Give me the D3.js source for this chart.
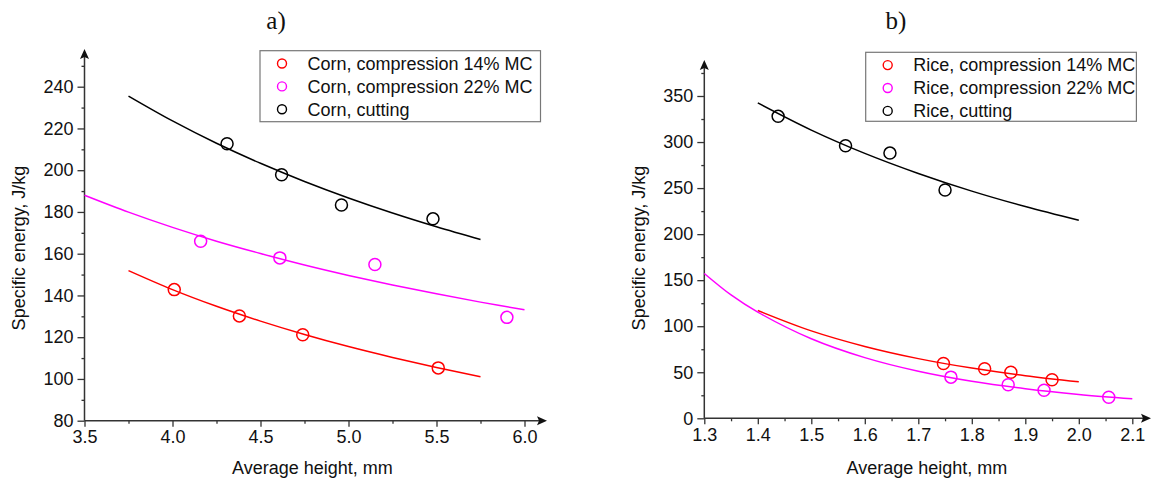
<!DOCTYPE html>
<html><head><meta charset="utf-8">
<script src="https://cdn.jsdelivr.net/npm/d3@7"></script>
<style>
html,body{margin:0;padding:0;background:#fff;}
svg text{font-family:"Liberation Sans",Arial,sans-serif;fill:#111;}
</style></head>
<body><svg id="c" width="1152" height="481"></svg>
<script>
// ---------- Panel a) Corn ----------
const cornLegend = ["Corn, compression 14% MC","Corn, compression 22% MC","Corn, cutting"];
const corn14X = [4.01, 4.38, 4.74, 5.51];
const corn14Y = [142.8, 130.2, 121.2, 105.3];
const corn22X = [4.16, 4.61, 5.15, 5.90];
const corn22Y = [166.0, 158.0, 154.8, 129.5];
const cornCutX = [4.31, 4.62, 4.96, 5.48];
const cornCutY = [212.7, 197.8, 183.3, 176.7];
const corn14FitX = [3.75, 4.0, 4.25, 4.5, 4.75, 5.0, 5.25, 5.5, 5.75];
const corn14FitY = [151.9, 142.8, 134.8, 127.7, 121.3, 115.5, 110.3, 105.5, 101.1];
const corn22FitX = [3.5, 3.75, 4.0, 4.25, 4.5, 4.75, 5.0, 5.25, 5.5, 5.75, 6.0];
const corn22FitY = [188.0, 179.9, 172.6, 166.0, 160.1, 154.6, 149.6, 145.0, 140.8, 136.8, 133.1];
const cornCutFitX = [3.75, 4.0, 4.25, 4.5, 4.75, 5.0, 5.25, 5.5, 5.75];
const cornCutFitY = [235.5, 223.6, 212.9, 203.3, 194.6, 186.7, 179.5, 172.9, 166.8];
const cornXTicks = [3.5, 4.0, 4.5, 5.0, 5.5, 6.0];
const cornXMinor = [3.75, 4.25, 4.75, 5.25, 5.75];
const cornYTicks = [80, 100, 120, 140, 160, 180, 200, 220, 240];
const cornYMinor = [90, 110, 130, 150, 170, 190, 210, 230, 250];

// ---------- Panel b) Rice ----------
const riceLegend = ["Rice, compression 14% MC","Rice, compression 22% MC","Rice, cutting"];
const rice14X = [1.747, 1.824, 1.873, 1.950];
const rice14Y = [59.6, 53.8, 50.1, 41.8];
const rice22X = [1.761, 1.868, 1.935, 2.056];
const rice22Y = [44.7, 36.4, 30.5, 22.9];
const riceCutX = [1.438, 1.564, 1.647, 1.750];
const riceCutY = [327.9, 296.0, 288.0, 248.0];
const rice14FitX = [1.4, 1.5, 1.6, 1.7, 1.8, 1.9, 2.0];
const rice14FitY = [117.0, 94.9, 78.0, 64.8, 54.5, 46.2, 39.6];
const rice22FitX = [1.3, 1.35, 1.4, 1.5, 1.6, 1.7, 1.8, 1.9, 2.0, 2.1];
const rice22FitY = [157.3, 134.0, 115.3, 86.4, 65.9, 51.1, 40.2, 32.1, 25.9, 21.1];
const riceCutFitX = [1.4, 1.5, 1.6, 1.7, 1.8, 1.9, 2.0];
const riceCutFitY = [342.5, 313.0, 287.7, 265.9, 246.7, 229.9, 215.0];
const riceXTicks = [1.3, 1.4, 1.5, 1.6, 1.7, 1.8, 1.9, 2.0, 2.1];
const riceXMinor = [1.35, 1.45, 1.55, 1.65, 1.75, 1.85, 1.95, 2.05];
const riceYTicks = [0, 50, 100, 150, 200, 250, 300, 350];
const riceYMinor = [25, 75, 125, 175, 225, 275, 325, 375];

const seriesColors = ["#ff0000", "#ff00ff", "#000000"];

const svg = d3.select("#c");
const zip = (xs, ys) => xs.map((x, i) => [x, ys[i]]);

function panel(cfg) {
  const g = svg.append("g");
  const x = d3.scaleLinear().domain(cfg.xDomain).range(cfg.xRange);
  const y = d3.scaleLinear().domain(cfg.yDomain).range(cfg.yRange);
  const x0 = cfg.xRange[0], y0 = cfg.yRange[0];
  const axisColor = "#333";

  // x axis
  const xa = g.append("g").attr("transform", `translate(0,${y0})`)
    .call(d3.axisBottom(x).tickValues(cfg.xTicks).tickSize(6).tickPadding(4).tickFormat(d3.format(".1f")));
  const xm = g.append("g").attr("transform", `translate(0,${y0})`)
    .call(d3.axisBottom(x).tickValues(cfg.xMinor).tickSize(3).tickFormat(""));
  // y axis
  const ya = g.append("g").attr("transform", `translate(${x0},0)`)
    .call(d3.axisLeft(y).tickValues(cfg.yTicks).tickSize(7).tickPadding(4).tickFormat(d3.format("d")));
  const ym = g.append("g").attr("transform", `translate(${x0},0)`)
    .call(d3.axisLeft(y).tickValues(cfg.yMinor).tickSize(3).tickFormat(""));
  [xa, xm, ya, ym].forEach(a => {
    a.select(".domain").remove();
    a.selectAll(".tick line").attr("stroke", axisColor).attr("stroke-width", 1.3);
    a.selectAll(".tick text").style("font-size", "18px").style("font-family", '"Liberation Sans",Arial,sans-serif').attr("fill", "#111");
  });
  // axis lines with arrows
  g.append("line").attr("x1", x0).attr("x2", cfg.xArrow - 8).attr("y1", y0).attr("y2", y0)
    .attr("stroke", axisColor).attr("stroke-width", 1.5);
  g.append("line").attr("x1", x0).attr("x2", x0).attr("y1", y0).attr("y2", cfg.yArrow + 8)
    .attr("stroke", axisColor).attr("stroke-width", 1.5);
  g.append("path").attr("d", `M${cfg.xArrow},${y0} L${cfg.xArrow - 10},${y0 - 4.5} L${cfg.xArrow - 8},${y0} L${cfg.xArrow - 10},${y0 + 4.5} Z`).attr("fill", "#111");
  g.append("path").attr("d", `M${x0},${cfg.yArrow} L${x0 - 4.5},${cfg.yArrow + 10} L${x0},${cfg.yArrow + 8} L${x0 + 4.5},${cfg.yArrow + 10} Z`).attr("fill", "#111");

  // fits
  const line = d3.line().x(d => x(d[0])).y(d => y(d[1])).curve(d3.curveCatmullRom.alpha(0.5));
  cfg.fits.forEach((f, i) => {
    g.append("path").attr("d", line(zip(f[0], f[1]))).attr("fill", "none")
      .attr("stroke", seriesColors[i]).attr("stroke-width", 1.5);
  });
  // points
  cfg.points.forEach((p, i) => {
    g.selectAll(null).data(zip(p[0], p[1])).enter().append("circle")
      .attr("cx", d => x(d[0])).attr("cy", d => y(d[1])).attr("r", 6)
      .attr("fill", "none").attr("stroke", seriesColors[i]).attr("stroke-width", 1.5);
  });

  // axis titles
  g.append("text").attr("x", cfg.xLabelX).attr("y", 474).attr("text-anchor", "middle")
    .style("font-size", "18px").text("Average height, mm");
  g.append("text").attr("transform", `translate(${cfg.yLabelX},248) rotate(-90)`).attr("text-anchor", "middle")
    .style("font-size", "18px").text("Specific energy, J/kg");
  // panel title
  g.append("text").attr("x", cfg.titleX).attr("y", 28.5).attr("text-anchor", "middle")
    .style("font-family", '"Liberation Serif","Times New Roman",serif').style("font-size", "25px").text(cfg.title);

  // legend
  const L = cfg.legend;
  g.append("rect").attr("x", L.x).attr("y", L.y).attr("width", L.w).attr("height", L.h)
    .attr("fill", "#fff").attr("stroke", "#777").attr("stroke-width", 1.2);
  cfg.legendNames.forEach((name, i) => {
    const cy = L.y + 12.8 + i * 22.9;
    g.append("circle").attr("cx", L.x + 22).attr("cy", cy).attr("r", 4.5)
      .attr("fill", "none").attr("stroke", seriesColors[i]).attr("stroke-width", 1.4);
    g.append("text").attr("x", L.x + 47.5).attr("y", cy + 6.3).style("font-size", "18px").text(name);
  });
}

panel({
  xDomain: [3.5, 6.0], xRange: [84.5, 524.5],
  yDomain: [80, 240], yRange: [420.7, 86.7],
  xArrow: 547, yArrow: 49,
  xTicks: cornXTicks, xMinor: cornXMinor, yTicks: cornYTicks, yMinor: cornYMinor,
  fits: [[corn14FitX, corn14FitY], [corn22FitX, corn22FitY], [cornCutFitX, cornCutFitY]],
  points: [[corn14X, corn14Y], [corn22X, corn22Y], [cornCutX, cornCutY]],
  xLabelX: 312.5, yLabelX: 25, titleX: 276, title: "a)",
  legend: {x: 260, y: 50.7, w: 280.5, h: 71}, legendNames: cornLegend
});
panel({
  xDomain: [1.3, 2.1], xRange: [704.3, 1132.3],
  yDomain: [0, 350], yRange: [418.3, 96.0],
  xArrow: 1151, yArrow: 60,
  xTicks: riceXTicks, xMinor: riceXMinor, yTicks: riceYTicks, yMinor: riceYMinor,
  fits: [[rice14FitX, rice14FitY], [rice22FitX, rice22FitY], [riceCutFitX, riceCutFitY]],
  points: [[rice14X, rice14Y], [rice22X, rice22Y], [riceCutX, riceCutY]],
  xLabelX: 927, yLabelX: 645, titleX: 896, title: "b)",
  legend: {x: 865.7, y: 52.3, w: 270.7, h: 69}, legendNames: riceLegend
});
</script></body></html>
